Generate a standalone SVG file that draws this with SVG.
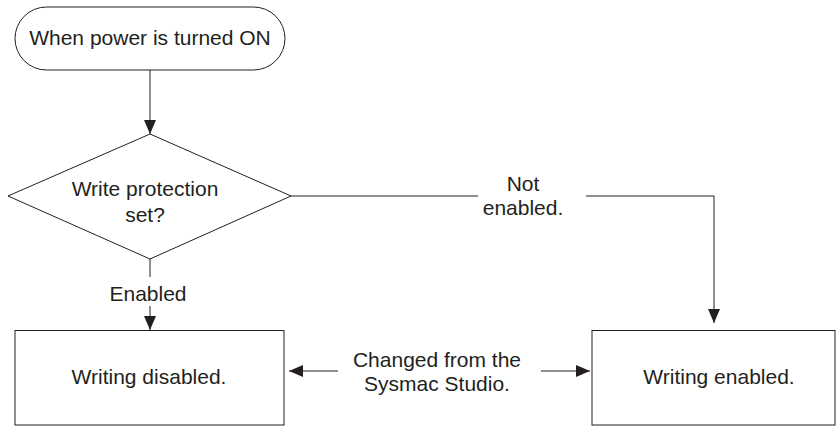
<svg xmlns="http://www.w3.org/2000/svg" width="836" height="426" viewBox="0 0 836 426">
<style>
.s{fill:#fff;stroke:#231f20;stroke-width:1}
.c{fill:none;stroke:#231f20;stroke-width:1}
.t{font-family:"Liberation Sans",Arial,sans-serif;font-size:21px;fill:#231f20;text-anchor:middle}
</style>
<defs>
<marker id="ahL" viewBox="0 0 14 12" refX="14" refY="6" markerWidth="14" markerHeight="12" markerUnits="userSpaceOnUse" orient="auto">
<path d="M0,0 L14,6 L0,12 Z" fill="#231f20"/>
</marker>
</defs>
<g id="connectors">
<line class="c" x1="150" y1="70" x2="150" y2="134" marker-end="url(#ahL)"/>
<line class="c" x1="150" y1="259" x2="150" y2="277"/>
<line class="c" x1="150" y1="306" x2="150" y2="330" marker-end="url(#ahL)"/>
<line class="c" x1="291" y1="196" x2="478" y2="196"/>
<polyline class="c" points="586,196 714,196 714,323" marker-end="url(#ahL)"/>
<line class="c" x1="338" y1="371" x2="289" y2="371" marker-end="url(#ahL)"/>
<line class="c" x1="541" y1="371" x2="590" y2="371" marker-end="url(#ahL)"/>
<text class="t" x="148" y="301">Enabled</text>
<text class="t" x="523" y="191">Not</text>
<text class="t" x="523" y="215">enabled.</text>
<text class="t" x="437" y="367">Changed from the</text>
<text class="t" x="437" y="391">Sysmac Studio.</text>
</g>
<g id="start">
<rect class="s" x="15" y="7" width="270" height="63" rx="31.5" ry="31.5"/>
<text class="t" x="150" y="45">When power is turned ON</text>
</g>
<g id="decision">
<polygon class="s" points="150,134 291,196 150,259 8,196"/>
<text class="t" x="145" y="196">Write protection</text>
<text class="t" x="145" y="222">set?</text>
</g>
<g id="disabled">
<rect class="s" x="15" y="330.5" width="269" height="94.5"/>
<text class="t" x="149" y="384">Writing disabled.</text>
</g>
<g id="enabled">
<rect class="s" x="592" y="330.5" width="243" height="94.5"/>
<text class="t" x="719" y="384">Writing enabled.</text>
</g>
</svg>
